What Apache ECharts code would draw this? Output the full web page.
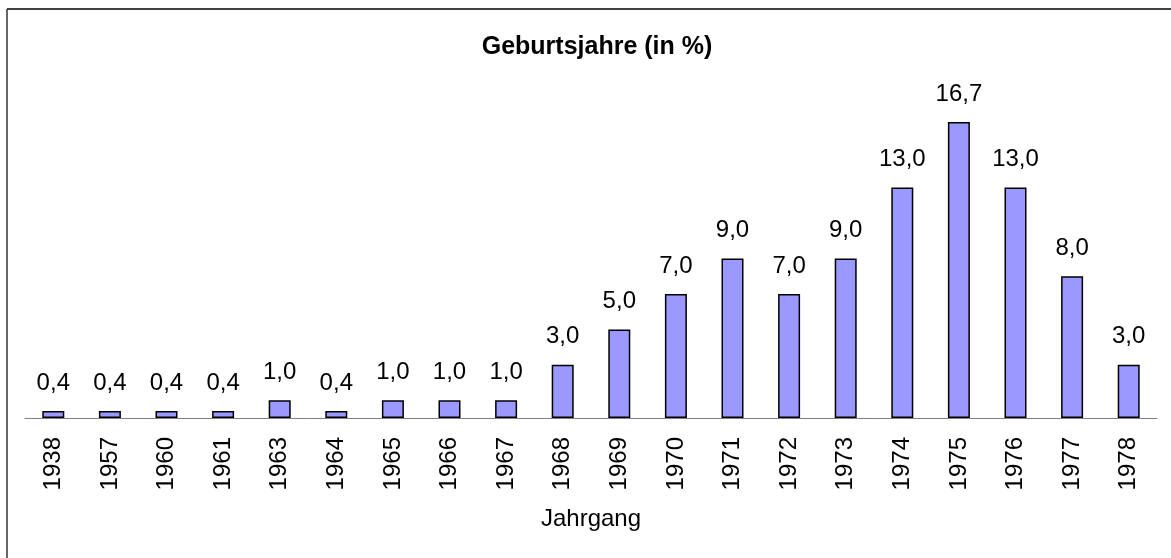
<!DOCTYPE html>
<html>
<head>
<meta charset="utf-8">
<script src="https://cdn.jsdelivr.net/npm/echarts@6/dist/echarts.min.js"></script>
<style>
  html, body { margin: 0; padding: 0; background: #fff; }
  #chart { width: 1171px; height: 558px; }
</style>
</head>
<body>
<div id="chart"></div>
<script>
// Geburtsjahre in Prozent
const years = ['1938', '1957', '1960', '1961', '1963', '1964', '1965', '1966', '1967', '1968',
  '1969', '1970', '1971', '1972', '1973', '1974', '1975', '1976', '1977', '1978']
const percent = [0.4, 0.4, 0.4, 0.4, 1.0, 0.4, 1.0, 1.0, 1.0, 3.0,
  5.0, 7.0, 9.0, 7.0, 9.0, 13.0, 16.7, 13.0, 8.0, 3.0]

const font = 'Liberation Sans, Arial, sans-serif'
const chart = echarts.init(document.getElementById('chart'))

chart.setOption({
  animation: false,
  title: {
    text: 'Geburtsjahre (in %)',
    left: 592,
    textAlign: 'center',
    top: 30,
    textStyle: { fontFamily: font, fontSize: 25, fontWeight: 'bold', color: '#000' }
  },
  grid: { left: 25, right: 14, top: 99, bottom: 140 },
  xAxis: {
    type: 'category',
    data: years,
    name: 'Jahrgang',
    nameLocation: 'middle',
    nameGap: 89,
    nameTextStyle: { fontFamily: font, fontSize: 24, color: '#000' },
    axisLine: { lineStyle: { color: '#808080', width: 1 } },
    axisTick: { length: 8, lineStyle: { color: '#808080' } },
    axisLabel: { rotate: 90, margin: 19, fontFamily: font, fontSize: 24, color: '#000' }
  },
  yAxis: {
    type: 'value',
    min: 0,
    max: 18,
    show: false
  },
  series: [{
    type: 'bar',
    data: percent,
    barWidth: 22,
    itemStyle: { color: '#9999FF', borderColor: '#000', borderWidth: 1.5 },
    label: {
      show: true,
      position: 'top',
      distance: 16,
      fontFamily: font,
      fontSize: 24,
      color: '#000',
      formatter: p => p.value.toFixed(1).replace('.', ',')
    }
  }],
  graphic: [
    { type: 'line', shape: { x1: 7, y1: 9, x2: 1171, y2: 9 }, style: { stroke: '#000', lineWidth: 1.5 } },
    { type: 'line', shape: { x1: 7, y1: 9, x2: 7, y2: 558 }, style: { stroke: '#333', lineWidth: 1.5 } }
  ]
})
</script>
</body>
</html>
